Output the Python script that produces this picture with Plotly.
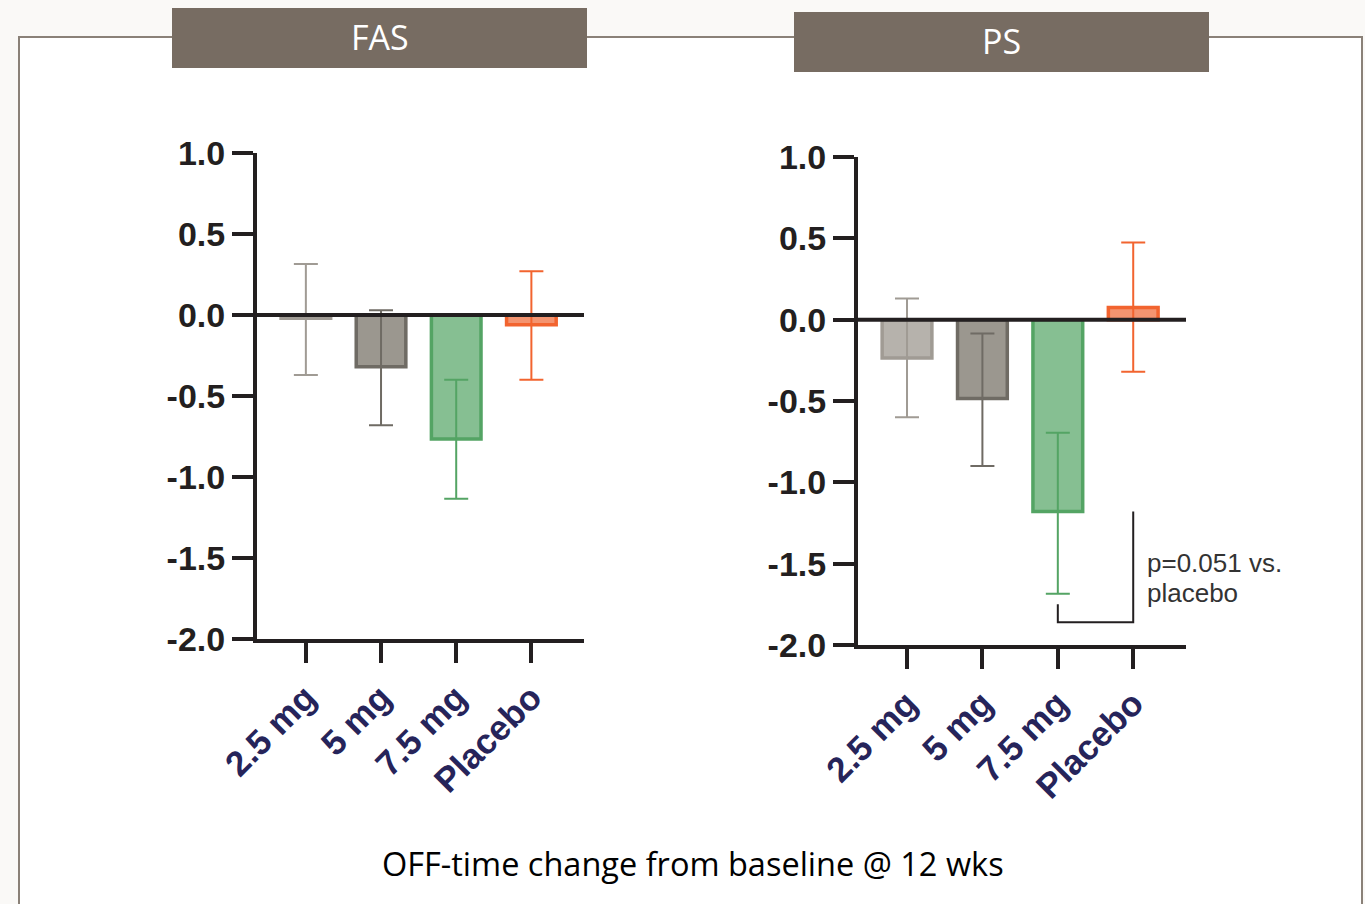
import plotly.graph_objects as go

categories = ["2.5 mg", "5 mg", "7.5 mg", "Placebo"]

# FAS panel
fas_mean = [-0.02, -0.32, -0.765, -0.06]
fas_upper = [0.315, 0.03, -0.40, 0.27]
fas_lower = [-0.37, -0.68, -1.135, -0.40]

# PS panel
ps_mean = [-0.235, -0.485, -1.18, 0.075]
ps_upper = [0.13, -0.085, -0.695, 0.475]
ps_lower = [-0.60, -0.90, -1.685, -0.32]

y_ticks = [1.0, 0.5, 0.0, -0.5, -1.0, -1.5, -2.0]
y_tick_text = ["1.0", "0.5", "0.0", "-0.5", "-1.0", "-1.5", "-2.0"]

fill_colors = ["#b6b2ac", "#9b978f", "#86bf92", "#f49470"]
line_colors = ["#a09b94", "#6f6b64", "#54a464", "#f2642f"]

panel_titles = ["FAS", "PS"]
caption = "OFF-time change from baseline @ 12 wks"
p_lines = ["p=0.051 vs.", "placebo"]
bracket_y = [-1.75, -1.86, -1.18]  # left top, bottom, right top (PS: 7.5 mg vs placebo)

W, H = 1365, 904
def px(x):
    return x / W
def py(y):
    return 1 - y / H

fig = go.Figure()

panels = [
    (fas_mean, fas_upper, fas_lower, "x", "y"),
    (ps_mean, ps_upper, ps_lower, "x2", "y2"),
]
for mean, up, lo, xa, ya in panels:
    for i, c in enumerate(categories):
        fig.add_trace(go.Bar(
            x=[c], y=[mean[i]], xaxis=xa, yaxis=ya, width=0.66,
            marker=dict(color=fill_colors[i], line=dict(color=line_colors[i], width=3.5)),
            error_y=dict(type="data", symmetric=False,
                         array=[up[i] - mean[i]], arrayminus=[mean[i] - lo[i]],
                         color=line_colors[i], thickness=2, width=12),
            showlegend=False, hoverinfo="skip",
        ))

tick_font = dict(family="Liberation Sans, Arial", size=34, color="#231f20", weight="bold")
xt_font = dict(family="Liberation Sans, Arial", size=35, color="#26245a", weight="bold")

axis_common_y = dict(range=[-2, 1], tickvals=y_ticks, ticktext=y_tick_text, ticks="outside",
                     ticklen=21, tickwidth=4, tickcolor="#231f20", showline=True, linewidth=4,
                     linecolor="#231f20", showgrid=False, zeroline=False, tickfont=tick_font,
                     automargin=False)
axis_common_x = dict(range=[-0.65, 3.7], categoryorder="array", categoryarray=categories,
                     ticks="outside", ticklen=20, tickwidth=4, tickcolor="#231f20",
                     showline=True, linewidth=4, linecolor="#231f20", showgrid=False,
                     zeroline=False, tickangle=-45, tickfont=xt_font, automargin=False)

fig.update_layout(
    width=W, height=H, margin=dict(l=0, r=0, t=0, b=0, pad=0, autoexpand=False),
    paper_bgcolor="#faf9f7", plot_bgcolor="rgba(0,0,0,0)",
    barmode="overlay",
    xaxis=dict(domain=[px(257), px(584)], anchor="y", **axis_common_x),
    yaxis=dict(domain=[py(639), py(153)], anchor="x", **axis_common_y),
    xaxis2=dict(domain=[px(858), px(1186)], anchor="y2", **axis_common_x),
    yaxis2=dict(domain=[py(645), py(157)], anchor="x2", **axis_common_y),
)

shapes = []
# outer white box
shapes.append(dict(type="rect", xref="paper", yref="paper", x0=px(19), x1=px(1362), y0=-0.05, y1=py(37),
                   fillcolor="white", line=dict(color="#8a8178", width=2), layer="below"))
# header boxes
headers = [(172, 587, 8, 68), (794, 1209, 12, 72)]
for (x0, x1, y0, y1), t in zip(headers, panel_titles):
    shapes.append(dict(type="rect", xref="paper", yref="paper", x0=px(x0), x1=px(x1), y0=py(y1), y1=py(y0),
                       fillcolor="#776c62", line=dict(width=0), layer="below"))
    fig.add_annotation(x=px((x0 + x1) / 2), y=py((y0 + y1) / 2 - 1), xref="paper", yref="paper",
                       xanchor="center", yanchor="middle",
                       text=t, showarrow=False, font=dict(family="Open Sans", size=34, color="white"))
# zero lines
for xa, ya in [("x", "y"), ("x2", "y2")]:
    shapes.append(dict(type="line", xref=f"{xa} domain", yref=ya, x0=0, x1=1, y0=0, y1=0,
                       line=dict(color="#231f20", width=4), layer="above"))
# significance bracket (PS)
shapes.append(dict(type="path", xref="x2", yref="y2",
                   path=f"M 2,{bracket_y[0]} L 2,{bracket_y[1]} L 3,{bracket_y[1]} L 3,{bracket_y[2]}",
                   line=dict(color="#231f20", width=2)))
fig.update_layout(shapes=shapes)

y_mid = (bracket_y[1] + bracket_y[2]) / 2 - 0.03
for k, line in enumerate(p_lines):
    fig.add_annotation(x=3, y=y_mid, xref="x2", yref="y2", xshift=12, yshift=9 - 30 * k,
                       text=line, showarrow=False, xanchor="left", yanchor="middle", align="left",
                       font=dict(family="Liberation Sans, Arial", size=26, color="#333333"))

fig.add_annotation(x=px(693), y=py(863), xref="paper", yref="paper", text=caption, showarrow=False,
                   xanchor="center", yanchor="middle",
                   font=dict(family="Open Sans", size=32.5, color="#000000"))

fig.write_html("out.html", config={"displayModeBar": False},
               post_script="document.body.style.margin='0';")
